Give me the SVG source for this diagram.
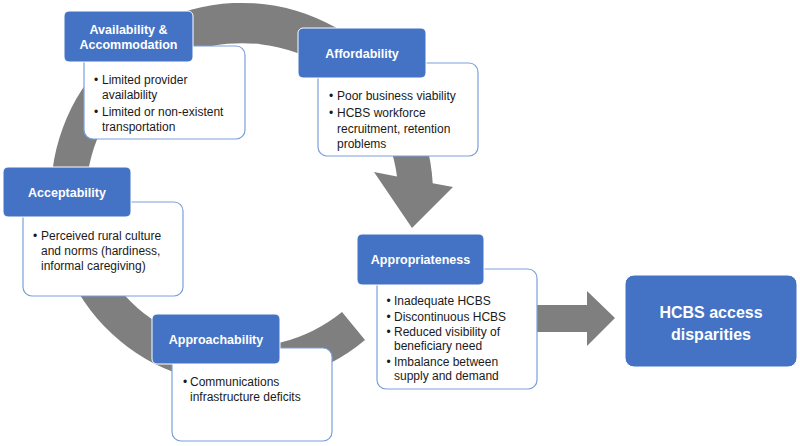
<svg xmlns="http://www.w3.org/2000/svg" width="800" height="446" viewBox="0 0 800 446">
  <style>
    .hdr { fill: #4472C4; stroke: #ffffff; stroke-width: 1; }
    .body { fill: #ffffff; stroke: #7c9fdc; stroke-width: 1.2; }
    .ht { font-family: "Liberation Sans", Arial, sans-serif; font-weight: bold; font-size: 12.5px; fill: #ffffff; text-anchor: middle; }
    .bt { font-family: "Liberation Sans", Arial, sans-serif; font-size: 12px; fill: #1a1a1a; }
    .big { font-family: "Liberation Sans", Arial, sans-serif; font-weight: bold; font-size: 16px; fill: #ffffff; text-anchor: middle; }
    .arrow { fill: #7f7f7f; stroke: none; }
  </style>
  <rect width="800" height="446" fill="#ffffff"/>
  <g id="connectors">
    <path class="arrow" d="M 365 340 A 191 191 0 1 1 432.7 183.2 L 453 187 L 412 228 L 374 172 L 397 176.4 A 156 152 0 1 0 342 312 Z"/>
    <polygon class="arrow" points="520,305 587,305 587,291 615,318 587,346 587,332 520,332"/>
  </g>
  <g id="availability">
    <rect class="body" x="84" y="46" width="161" height="93" rx="9"/>
    <rect class="hdr" x="64" y="11" width="129" height="51" rx="5"/>
    <text class="ht" x="128.5" y="33.5">Availability &amp;</text>
    <text class="ht" x="128.5" y="48.5">Accommodation</text>
    <text class="bt" x="94" y="84">•</text><text class="bt" x="102" y="84">Limited provider</text>
    <text class="bt" x="102" y="99">availability</text>
    <text class="bt" x="94" y="115.7">•</text><text class="bt" x="102" y="115.7">Limited or non-existent</text>
    <text class="bt" x="102" y="130.7">transportation</text>
  </g>
  <g id="affordability">
    <rect class="body" x="318" y="63" width="160" height="93" rx="9"/>
    <rect class="hdr" x="298" y="28" width="128" height="50" rx="5"/>
    <text class="ht" x="362" y="57.5">Affordability</text>
    <text class="bt" x="329" y="100">•</text><text class="bt" x="337" y="100">Poor business viability</text>
    <text class="bt" x="329" y="117.3">•</text><text class="bt" x="337" y="117.3">HCBS workforce</text>
    <text class="bt" x="337" y="132.7">recruitment, retention</text>
    <text class="bt" x="337" y="148.3">problems</text>
  </g>
  <g id="acceptability">
    <rect class="body" x="23" y="202" width="160" height="94" rx="9"/>
    <rect class="hdr" x="3" y="167" width="128" height="50" rx="5"/>
    <text class="ht" x="67" y="196.5">Acceptability</text>
    <text class="bt" x="33" y="239.7">•</text><text class="bt" x="41" y="239.7">Perceived rural culture</text>
    <text class="bt" x="41" y="254.7">and norms (hardiness,</text>
    <text class="bt" x="41" y="270.3">informal caregiving)</text>
  </g>
  <g id="approachability">
    <rect class="body" x="172" y="348" width="160" height="93" rx="9"/>
    <rect class="hdr" x="152" y="314" width="128" height="50" rx="5"/>
    <text class="ht" x="216" y="343.5">Approachability</text>
    <text class="bt" x="183" y="386.3">•</text><text class="bt" x="190" y="386.3">Communications</text>
    <text class="bt" x="190" y="401.3">infrastructure deficits</text>
  </g>
  <g id="appropriateness">
    <rect class="body" x="377" y="269" width="160" height="120" rx="9"/>
    <rect class="hdr" x="357" y="234" width="127" height="51" rx="5"/>
    <text class="ht" x="420.5" y="264">Appropriateness</text>
    <text class="bt" x="386.5" y="304.7">•</text><text class="bt" x="394" y="304.7">Inadequate HCBS</text>
    <text class="bt" x="386.5" y="320.7">•</text><text class="bt" x="394" y="320.7">Discontinuous HCBS</text>
    <text class="bt" x="386.5" y="336.3">•</text><text class="bt" x="394" y="336.3">Reduced visibility of</text>
    <text class="bt" x="394" y="350.3">beneficiary need</text>
    <text class="bt" x="386.5" y="366.3">•</text><text class="bt" x="394" y="366.3">Imbalance between</text>
    <text class="bt" x="394" y="380.3">supply and demand</text>
  </g>
  <g id="hcbs-access-disparities">
    <rect x="625" y="275" width="172" height="92" rx="9" fill="#4472C4" stroke="#ffffff" stroke-width="1"/>
    <text class="big" x="711" y="318">HCBS access</text>
    <text class="big" x="711" y="339.5">disparities</text>
  </g>
</svg>
